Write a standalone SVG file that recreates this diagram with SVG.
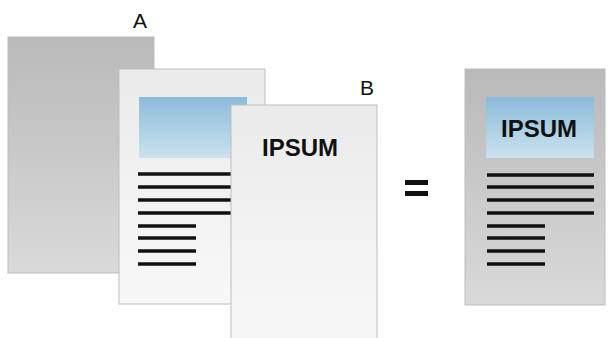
<svg xmlns="http://www.w3.org/2000/svg" width="609" height="338" viewBox="0 0 609 338">
<defs>
<linearGradient id="gGray" x1="0" y1="0" x2="0" y2="1"><stop offset="0" stop-color="#b9b9b9"/><stop offset="1" stop-color="#dadada"/></linearGradient>
<linearGradient id="gLight" x1="0" y1="0" x2="0" y2="1"><stop offset="0" stop-color="#ebebeb"/><stop offset="1" stop-color="#f8f8f8"/></linearGradient>
<linearGradient id="gBlue" x1="0" y1="0" x2="0" y2="1"><stop offset="0" stop-color="#8bbbd9"/><stop offset="1" stop-color="#cce2ef"/></linearGradient>
</defs>
<style>
.edge{stroke:#bdbdbd;stroke-width:1}
.ln{stroke:#111;stroke-width:3.5;stroke-linecap:butt}
.lbl{font-family:"Liberation Sans",Arial,sans-serif;font-size:21px;fill:#111}
.ip{font-family:"Liberation Sans",Arial,sans-serif;font-size:24px;font-weight:bold;fill:#111}
</style>
<g id="pageA">
<rect x="8" y="37" width="146" height="236" fill="url(#gGray)" class="edge"/>
<text x="140" y="28" class="lbl" text-anchor="middle">A</text>
</g>
<g id="page2">
<rect x="119" y="69" width="146" height="235" fill="url(#gLight)" class="edge"/>
<rect x="139" y="97" width="108" height="61" fill="url(#gBlue)"/>
<g class="ln">
<line x1="138" y1="174" x2="247" y2="174"/>
<line x1="138" y1="187" x2="247" y2="187"/>
<line x1="138" y1="200" x2="247" y2="200"/>
<line x1="138" y1="213" x2="247" y2="213"/>
<line x1="138" y1="226" x2="196" y2="226"/>
<line x1="138" y1="238" x2="196" y2="238"/>
<line x1="138" y1="251" x2="196" y2="251"/>
<line x1="138" y1="264" x2="196" y2="264"/>
</g>
</g>
<g id="pageB">
<rect x="231" y="105" width="146" height="240" fill="url(#gLight)" class="edge"/>
<text x="300" y="156" class="ip" text-anchor="middle">IPSUM</text>
<text x="367" y="95" class="lbl" text-anchor="middle">B</text>
</g>
<g id="equals">
<rect x="405" y="180" width="23" height="5" fill="#111"/>
<rect x="405" y="191" width="23" height="5" fill="#111"/>
</g>
<g id="result">
<rect x="465" y="69" width="140" height="236" fill="url(#gGray)" class="edge"/>
<rect x="486" y="97" width="108" height="61" fill="url(#gBlue)"/>
<text x="539" y="137" class="ip" text-anchor="middle">IPSUM</text>
<g class="ln">
<line x1="487" y1="175" x2="594" y2="175"/>
<line x1="487" y1="187" x2="594" y2="187"/>
<line x1="487" y1="200" x2="594" y2="200"/>
<line x1="487" y1="213" x2="594" y2="213"/>
<line x1="487" y1="226" x2="545" y2="226"/>
<line x1="487" y1="238" x2="545" y2="238"/>
<line x1="487" y1="251" x2="545" y2="251"/>
<line x1="487" y1="264" x2="545" y2="264"/>
</g>
</g>
</svg>
